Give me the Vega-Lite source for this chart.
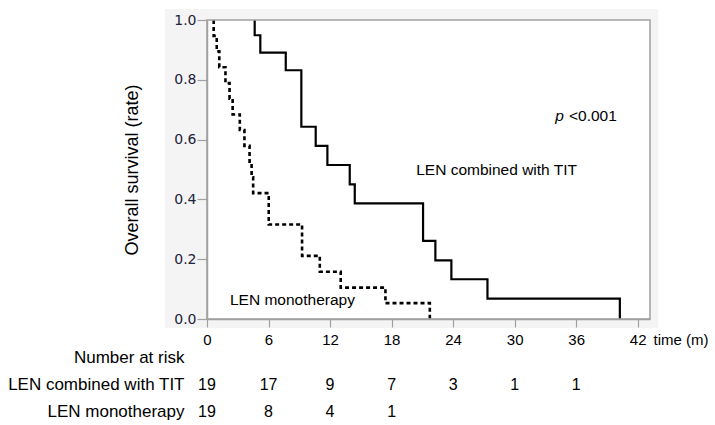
{
  "$schema": "https://vega.github.io/schema/vega-lite/v6.json",
  "padding": {"left": 7, "top": 8, "right": 2, "bottom": 2},
  "background": "white",
  "config": {"view": {"stroke": null}, "font": "Liberation Sans"},
  "bounds": "flush",
  "spacing": 25,
  "datasets": {
    "combined": [
      {"t": 4.65, "s": 1}, {"t": 4.65, "s": 0.949}, {"t": 5.2, "s": 0.891}, {"t": 7.68, "s": 0.832},
      {"t": 9.2, "s": 0.643}, {"t": 10.6, "s": 0.579}, {"t": 11.74, "s": 0.515}, {"t": 13.92, "s": 0.45},
      {"t": 14.41, "s": 0.387}, {"t": 21.07, "s": 0.261}, {"t": 22.27, "s": 0.196}, {"t": 23.83, "s": 0.133},
      {"t": 27.35, "s": 0.068}, {"t": 40.26, "s": 0}
    ],
    "mono": [
      {"t": 0.65, "s": 1}, {"t": 0.65, "s": 0.947}, {"t": 0.95, "s": 0.895}, {"t": 1.2, "s": 0.842},
      {"t": 1.8, "s": 0.789}, {"t": 2.2, "s": 0.737}, {"t": 2.5, "s": 0.684}, {"t": 3.2, "s": 0.632},
      {"t": 3.65, "s": 0.579}, {"t": 4.15, "s": 0.526}, {"t": 4.35, "s": 0.474}, {"t": 4.5, "s": 0.421},
      {"t": 6.02, "s": 0.316}, {"t": 9.27, "s": 0.211}, {"t": 11.0, "s": 0.158}, {"t": 13.04, "s": 0.105},
      {"t": 17.4, "s": 0.053}, {"t": 21.73, "s": 0}
    ],
    "risk": [
      {"group": "LEN combined with TIT", "t": 0, "n": 19},
      {"group": "LEN combined with TIT", "t": 6, "n": 17},
      {"group": "LEN combined with TIT", "t": 12, "n": 9},
      {"group": "LEN combined with TIT", "t": 18, "n": 7},
      {"group": "LEN combined with TIT", "t": 24, "n": 3},
      {"group": "LEN combined with TIT", "t": 30, "n": 1},
      {"group": "LEN combined with TIT", "t": 36, "n": 1},
      {"group": "LEN monotherapy", "t": 0, "n": 19},
      {"group": "LEN monotherapy", "t": 6, "n": 8},
      {"group": "LEN monotherapy", "t": 12, "n": 4},
      {"group": "LEN monotherapy", "t": 18, "n": 1}
    ]
  },
  "vconcat": [
    {
      "width": 443,
      "height": 299,
      "layer": [
        {
          "data": {"values": [{}]},
          "mark": {"type": "rect", "fill": "#f4f4f4"},
          "encoding": {
            "x": {"datum": -4.1, "type": "quantitative", "scale": {"domain": [0, 43.2], "nice": false}},
            "x2": {"datum": 44.0},
            "y": {"datum": 1.037, "type": "quantitative", "scale": {"domain": [0, 1], "nice": false}},
            "y2": {"datum": -0.03}
          }
        },
        {
          "data": {"values": [{}]},
          "mark": {"type": "rect", "fill": "white"},
          "encoding": {
            "x": {"datum": 0, "type": "quantitative", "scale": {"domain": [0, 43.2], "nice": false}},
            "x2": {"datum": 43.2},
            "y": {"datum": 1, "type": "quantitative", "scale": {"domain": [0, 1], "nice": false}},
            "y2": {"datum": 0}
          }
        },
        {
          "data": {"name": "combined"},
          "mark": {"type": "line", "interpolate": "step-after", "clip": true, "color": "black", "strokeWidth": 2.2},
          "encoding": {
            "x": {
              "field": "t", "type": "quantitative",
              "scale": {"domain": [0, 43.2], "nice": false},
              "axis": {
                "values": [0, 1.5, 3, 4.5, 6, 7.5, 9, 10.5, 12, 13.5, 15, 16.5, 18, 19.5, 21, 22.5, 24, 25.5, 27, 28.5, 30, 31.5, 33, 34.5, 36, 37.5, 39, 40.5, 42],
                "labelExpr": "datum.value % 6 == 0 ? datum.label : ''",
                "tickSize": {"condition": {"test": "datum.value % 3 == 0", "value": 8}, "value": 5},
                "labelFlush": false,
                "labelOverlap": false,
                "labelPadding": 5,
                "labelFont": "Liberation Sans",
                "labelFontSize": 15,
                "labelColor": "black",
                "domainColor": "#a0a0a0",
                "domainWidth": 1.5,
                "tickColor": "#a0a0a0",
                "tickWidth": 1.2,
                "grid": false,
                "title": "time (m)",
                "titleFont": "Liberation Sans",
                "titleFontSize": 15,
                "titleFontWeight": "normal",
                "titleColor": "black",
                "titleX": 446,
                "titleY": 13,
                "titleAlign": "left",
                "titleBaseline": "top",
                "zindex": 1
              }
            },
            "y": {
              "field": "s", "type": "quantitative",
              "scale": {"domain": [0, 1], "nice": false},
              "axis": {
                "values": [0, 0.1, 0.2, 0.3, 0.4, 0.5, 0.6, 0.7, 0.8, 0.9, 1],
                "labelExpr": "round(datum.value * 10) % 2 == 0 ? format(datum.value, '.1f') : ''",
                "tickSize": {"condition": {"test": "round(datum.value * 10) % 2 == 0", "value": 10}, "value": 5},
                "labelFlush": false,
                "labelOverlap": false,
                "labelPadding": 1,
                "labelFont": "DejaVu Sans",
                "labelFontSize": 14,
                "labelColor": "#22223a",
                "domainColor": "#a0a0a0",
                "domainWidth": 1.5,
                "tickColor": "#a0a0a0",
                "tickWidth": 1.2,
                "grid": false,
                "title": "Overall survival (rate)",
                "titleFont": "Liberation Sans",
                "titleFontSize": 18,
                "titleFontWeight": "normal",
                "titleColor": "black",
                "titlePadding": 32,
                "zindex": 1
              }
            }
          }
        },
        {
          "data": {"name": "mono"},
          "mark": {"type": "line", "interpolate": "step-after", "clip": true, "color": "black", "strokeWidth": 2.6, "strokeDash": [4, 3]},
          "encoding": {
            "x": {"field": "t", "type": "quantitative", "scale": {"domain": [0, 43.2], "nice": false}},
            "y": {"field": "s", "type": "quantitative", "scale": {"domain": [0, 1], "nice": false}}
          }
        },
        {
          "data": {"values": [{}]},
          "mark": {"type": "rect", "filled": false, "stroke": "#a0a0a0", "strokeWidth": 1.5},
          "encoding": {
            "x": {"datum": 0, "type": "quantitative", "scale": {"domain": [0, 43.2], "nice": false}},
            "x2": {"datum": 43.2},
            "y": {"datum": 1, "type": "quantitative", "scale": {"domain": [0, 1], "nice": false}},
            "y2": {"datum": 0}
          }
        },
        {
          "data": {"values": [{"label": "p"}]},
          "mark": {"type": "text", "font": "Liberation Sans", "fontSize": 15.5, "fontStyle": "italic", "align": "left", "baseline": "middle", "color": "black"},
          "encoding": {
            "x": {"datum": 33.95, "type": "quantitative", "scale": {"domain": [0, 43.2], "nice": false}},
            "y": {"datum": 0.679, "type": "quantitative", "scale": {"domain": [0, 1], "nice": false}},
            "text": {"field": "label"}
          }
        },
        {
          "data": {"values": [{"label": "<0.001"}]},
          "mark": {"type": "text", "font": "Liberation Sans", "fontSize": 15.5, "align": "left", "baseline": "middle", "color": "black"},
          "encoding": {
            "x": {"datum": 35.3, "type": "quantitative", "scale": {"domain": [0, 43.2], "nice": false}},
            "y": {"datum": 0.679, "type": "quantitative", "scale": {"domain": [0, 1], "nice": false}},
            "text": {"field": "label"}
          }
        },
        {
          "data": {"values": [{"label": "LEN combined with TIT"}]},
          "mark": {"type": "text", "font": "Liberation Sans", "fontSize": 15.5, "align": "left", "baseline": "middle", "color": "black"},
          "encoding": {
            "x": {"datum": 20.4, "type": "quantitative", "scale": {"domain": [0, 43.2], "nice": false}},
            "y": {"datum": 0.498, "type": "quantitative", "scale": {"domain": [0, 1], "nice": false}},
            "text": {"field": "label"}
          }
        },
        {
          "data": {"values": [{"label": "LEN monotherapy"}]},
          "mark": {"type": "text", "font": "Liberation Sans", "fontSize": 15.5, "align": "left", "baseline": "middle", "color": "black"},
          "encoding": {
            "x": {"datum": 2.24, "type": "quantitative", "scale": {"domain": [0, 43.2], "nice": false}},
            "y": {"datum": 0.064, "type": "quantitative", "scale": {"domain": [0, 1], "nice": false}},
            "text": {"field": "label"}
          }
        }
      ]
    },
    {
      "width": 443,
      "height": 81,
      "data": {"name": "risk"},
      "mark": {"type": "text", "font": "Liberation Sans", "fontSize": 16, "color": "black", "baseline": "middle"},
      "encoding": {
        "x": {"field": "t", "type": "quantitative", "scale": {"domain": [0, 43.2], "nice": false}, "axis": null},
        "y": {
          "field": "group", "type": "nominal",
          "scale": {"domain": ["Number at risk", "LEN combined with TIT", "LEN monotherapy"], "paddingInner": 0, "paddingOuter": 0},
          "axis": {
            "title": null,
            "domain": false,
            "ticks": false,
            "labelFont": "Liberation Sans",
            "labelFontSize": 17,
            "labelColor": "black",
            "labelLimit": 0,
            "labelPadding": 23
          }
        },
        "text": {"field": "n", "type": "quantitative"}
      }
    }
  ]
}
